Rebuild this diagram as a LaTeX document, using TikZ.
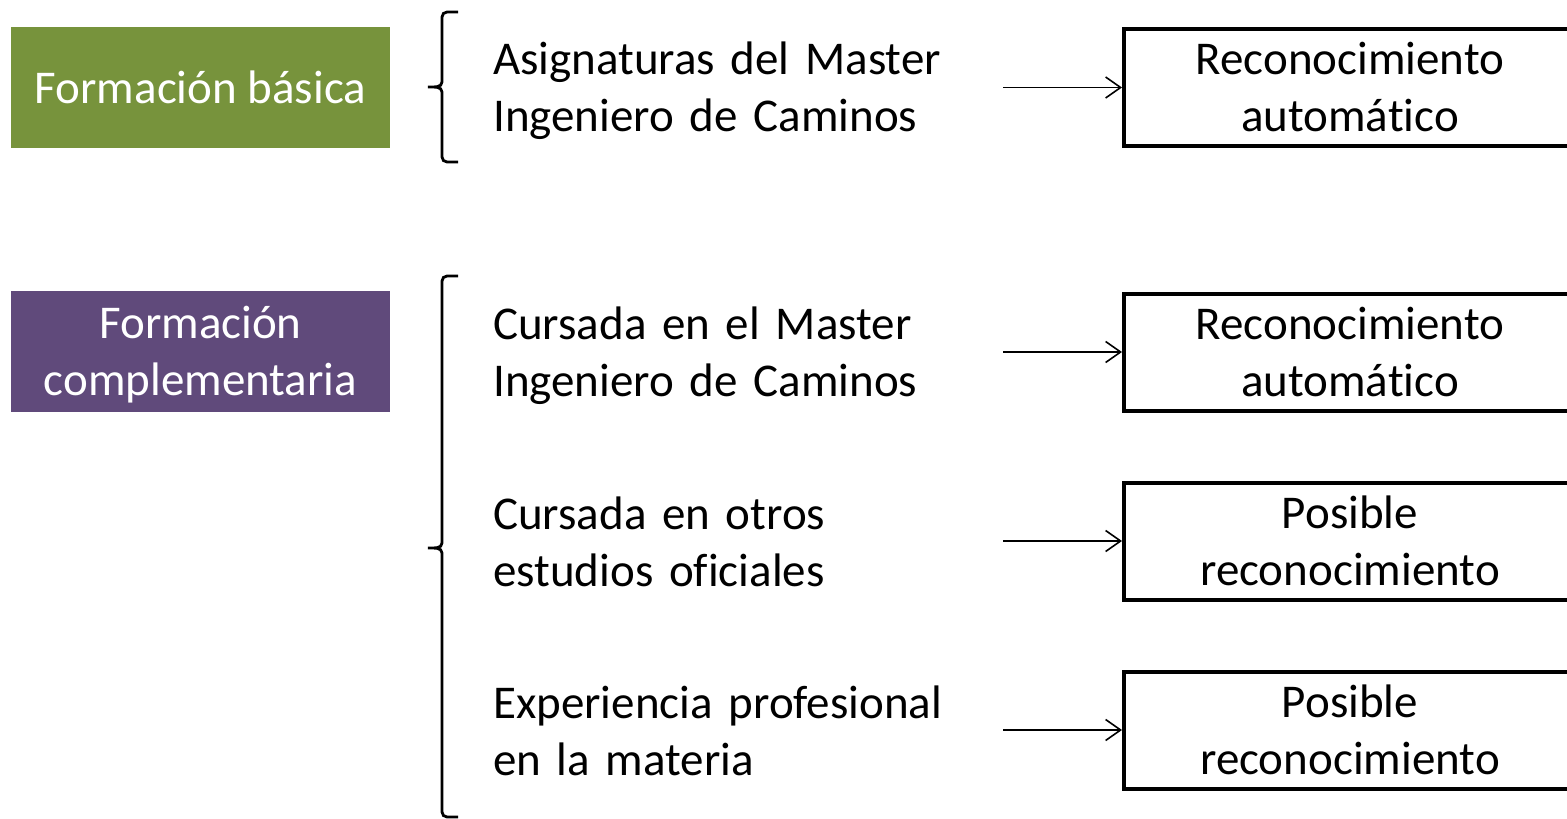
\documentclass[tikz,border=0pt]{standalone}
\usepackage{fontspec}
\setmainfont{Carlito}[Ligatures=NoCommon]
\usetikzlibrary{arrows.meta}
\definecolor{verde}{HTML}{77933C}
\definecolor{morado}{HTML}{604A7B}
\tikzset{
  grande/.style={font=\fontsize{47}{57}\selectfont},
  cat/.style={minimum width=379pt, minimum height=121pt, inner sep=0pt},
  cattexto/.style={grande, inner sep=0pt, text=white, align=center},
  opcion/.style={grande, anchor=west, text width=510pt, inner sep=0pt, align=left},
  recon/.style={grande, draw, line width=4pt, minimum width=452pt, minimum height=117pt, inner sep=0pt, align=center},
  llave/.style={line width=2.8pt},
  flecha/.style={-{Straight Barb[length=15pt,width=21pt]}, line width=1.6pt}
}

\begin{document}
\begin{tikzpicture}[x=1pt,y=-1pt]
\useasboundingbox (0,0) rectangle (1567,819);
\clip (0,0) rectangle (1567,819);

% categorias
\node[cat, fill=verde] (basica) at (200.5,87.5) {};
\node[cattexto] (basicatxt) at (basica.center) {Formación básica};
\node[cat, fill=morado] (compl) at (200.5,351.5) {};
\node[cattexto] (compltxt) at ([yshift=-3.5pt]compl.center) {Formación\\complementaria};

% llaves
\draw[llave] (458,12) -- (447,12) to[out=180,in=90] (442,17) -- (442,82)
  to[out=-90,in=0] (428,87) to[out=0,in=90] (442,92) -- (442,157)
  to[out=-90,in=180] (447,162) -- (458,162);
\draw[llave] (458,276) -- (447,276) to[out=180,in=90] (442,281) -- (442,543)
  to[out=-90,in=0] (428,548) to[out=0,in=90] (442,553) -- (442,812)
  to[out=-90,in=180] (447,817) -- (458,817);

% opciones
\node[opcion] (asig) at (493,91) {Asignaturas del Master\\Ingeniero de Caminos};
\node[opcion] (master) at (493,355.5) {Cursada en el Master\\Ingeniero de Caminos};
\node[opcion] (otros) at (493,541.5) {Cursada en otros\\estudios oficiales};
\node[opcion] (exper) at (493,730.5) {Experiencia profesional\\en la materia};

% reconocimiento
\node[recon] (rec1) at (1350,87.5) {Reconocimiento\\automático};
\node[recon] (rec2) at (1350,352) {Reconocimiento\\automático};
\node[recon] (rec3) at (1350,541) {Posible\\reconocimiento};
\node[recon] (rec4) at (1350,730) {Posible\\reconocimiento};

\draw[flecha] (asig.east |- rec1) -- (rec1);
\draw[flecha] (master.east |- rec2) -- (rec2);
\draw[flecha] (otros.east |- rec3) -- (rec3);
\draw[flecha] (exper.east |- rec4) -- (rec4);
\end{tikzpicture}
\end{document}
